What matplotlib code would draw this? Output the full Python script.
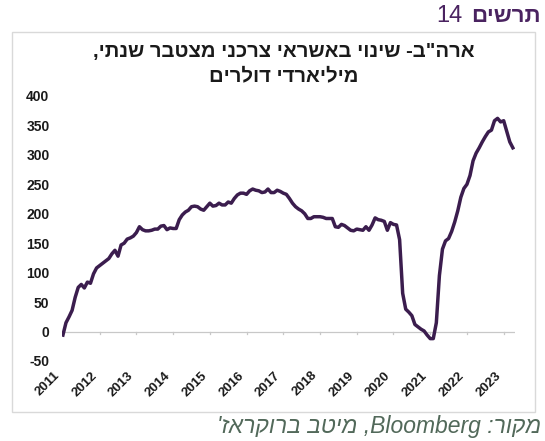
import numpy as np
import matplotlib
matplotlib.use("Agg")
import matplotlib.pyplot as plt
from matplotlib.patches import Rectangle
import matplotlib.transforms as mtransforms

plt.rcParams['font.family'] = ['Liberation Sans', 'DejaVu Sans']

# monthly values, Jan 2011 .. Apr 2023 (billions USD, 12m cumulative change)
credit = [
    -6, 15, 25, 36, 58, 75, 80, 74, 84, 82, 98, 108,          # 2011
    112, 116, 120, 124, 132, 138, 128, 147, 150, 157, 159, 162,  # 2012
    168, 178, 173, 171, 171, 172, 174, 174, 179, 180, 173, 176,  # 2013
    175, 175, 190, 198, 203, 206, 212, 213, 212, 208, 206, 212,  # 2014
    218, 213, 214, 218, 215, 215, 220, 218, 226, 232, 235, 235,  # 2015
    233, 239, 242, 240, 239, 236, 237, 242, 236, 236, 240, 238,  # 2016
    235, 233, 226, 218, 212, 208, 205, 200, 192, 192, 195, 195,  # 2017
    195, 194, 192, 192, 192, 178, 177, 182, 180, 176, 172, 171,  # 2018
    174, 173, 172, 178, 172, 181, 193, 190, 189, 187, 172, 185,  # 2019
    182, 181, 156, 65, 38, 33, 27, 12, 8, 4, 1, -6,             # 2020
    -12, -12, 15, 95, 140, 154, 158, 170, 186, 205, 228, 243,    # 2021
    250, 265, 290, 303, 312, 322, 331, 339, 342, 358, 362, 356,  # 2022
    358, 340, 322, 312,                                          # 2023
]
years = list(range(2011, 2024))
yticks = [-50, 0, 50, 100, 150, 200, 250, 300, 350, 400]

fig_label = "תרשים"
fig_num = "14"
title_l1 = "ארה\"ב- שינוי באשראי צרכני מצטבר שנתי,"
title_l2 = "מיליארדי דולרים"
source = "'זארקורב בטימ ,Bloomberg :רוקמ"   # already in visual order

W, H = 545, 441
fig = plt.figure(figsize=(W / 100, H / 100), dpi=100)
fig.patch.set_facecolor('white')

# outer frame of the chart
fig.patches.append(Rectangle((12 / W, 1 - 412 / H), (535 - 12) / W, (412 - 32) / H,
                             transform=fig.transFigure, fill=False,
                             edgecolor='#d9d9d9', linewidth=1.0))

ax = fig.add_axes([62 / W, 1 - 361 / H, (515 - 62) / W, (361 - 96) / H])
x = np.arange(len(credit))
ax.plot(x, credit, color='#3b1d4e', linewidth=2.5, solid_joinstyle='round')

ax.set_ylim(-50, 400)
ax.set_xlim(-0.3, 147.7)
for s in ax.spines.values():
    s.set_visible(False)
ax.axhline(0, color='#c8c8c8', linewidth=0.9, zorder=0)
for k in range(1, len(years)):
    ax.plot([12 * k, 12 * k], [0, -4], color='#c8c8c8', linewidth=0.9, zorder=0)

ax.set_yticks(yticks)
ax.set_yticklabels([str(v) for v in yticks], fontsize=10, fontweight='bold', color='#1a1a1a')
ax.tick_params(axis='y', length=0, pad=9)

ax.set_xticks([12 * k for k in range(len(years))])
ax.set_xticklabels([str(y) for y in years], fontsize=9.5, fontweight='bold',
                   color='#1a1a1a', rotation=45, ha='right', va='top',
                   rotation_mode='anchor')
ax.tick_params(axis='x', length=0, pad=6)
offset = mtransforms.ScaledTranslation(-9 / 100, 0, fig.dpi_scale_trans)
for lab in ax.get_xticklabels():
    lab.set_transform(lab.get_transform() + offset)

# chart title (RTL text reversed for display)
fig.text(284 / W, 1 - 52 / H, title_l1[::-1], ha='center', va='center',
         fontsize=14.6, fontweight='bold', color='#1a1a1a')
fig.text(284 / W, 1 - 76 / H, title_l2[::-1], ha='center', va='center',
         fontsize=14.6, fontweight='bold', color='#1a1a1a')

# figure number
purple = '#4a2360'
fig.text(541 / W, 1 - 16 / H, fig_label[::-1], ha='right', va='center',
         fontsize=16, fontweight='bold', color=purple)
fig.text(463 / W, 1 - 16 / H, fig_num, ha='right', va='center',
         fontsize=17, color=purple)

# source
fig.text(541 / W, 1 - 426 / H, source, ha='right', va='center',
         fontsize=16.5, style='italic', color='#52695a')

fig.savefig('out.png', dpi=100)
